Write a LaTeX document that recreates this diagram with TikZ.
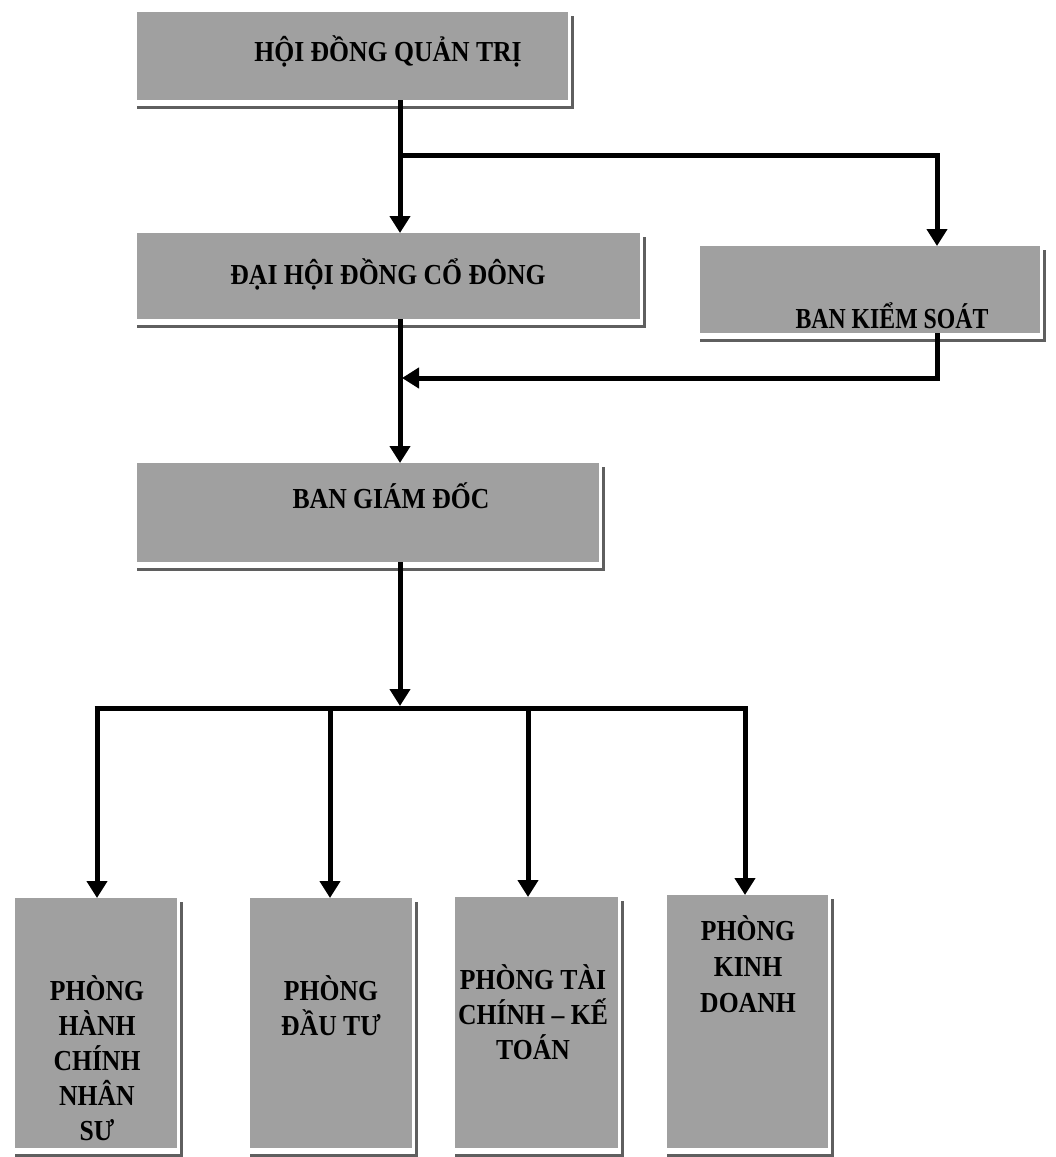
\documentclass[tikz,border=0pt]{standalone}
\usepackage{fontspec}
\setmainfont{Liberation Serif}
\newfontfamily\boxfont[FakeStretch=0.885]{Liberation Serif}
\newfontfamily\narrowfont[FakeStretch=0.82]{Liberation Serif}
\usetikzlibrary{arrows.meta}
\definecolor{boxgray}{RGB}{160,160,160}
\definecolor{shadowgray}{RGB}{95,95,95}
\newcommand{\boxshade}[1]{\draw[shadowline] ([yshift=-7pt]#1.south west) -- ([xshift=4pt,yshift=-7pt]#1.south east) -- ([xshift=4pt,yshift=-4pt]#1.north east);}
\begin{document}
\begin{tikzpicture}[x=1pt,y=-1pt,
  box/.style={fill=boxgray,draw=none,inner sep=0pt,anchor=north west},
  shadowline/.style={draw=shadowgray,line width=3pt},
  connline/.style={line width=5pt,draw=black},
  connarrow/.style={connline,-{Triangle[width=20pt,length=17pt]}},
  toptext/.style={font=\boxfont\bfseries\fontsize{29}{35}\selectfont,inner sep=0pt,anchor=base},
  bottext/.style={font=\boxfont\bfseries\fontsize{29}{35}\selectfont,align=center,inner sep=0pt}
]
\useasboundingbox[fill=white] (0,0) rectangle (1056,1157);

% upper boxes
\node[box,minimum width=431pt,minimum height=88pt] (hdqt) at (137,12) {};
\node[box,minimum width=503pt,minimum height=86pt] (dhdcd) at (137,233) {};
\node[box,minimum width=340pt,minimum height=87pt] (bks) at (700,246) {};
\node[box,minimum width=462pt,minimum height=99pt] (bgd) at (137,463) {};
\boxshade{hdqt}
\boxshade{dhdcd}
\boxshade{bks}
\boxshade{bgd}

\node[toptext] (t1) at (388,61) {HỘI ĐỒNG QUẢN TRỊ};
\node[toptext] (t2) at (388,284) {ĐẠI HỘI ĐỒNG CỔ ĐÔNG};
\node[toptext,font=\narrowfont\bfseries\fontsize{29}{35}\selectfont] (t3) at (892,328) {BAN KIỂM SOÁT};
\node[toptext] (t4) at (391,508) {BAN GIÁM ĐỐC};

% lower boxes
\node[box,minimum width=162pt,minimum height=250pt] (pa) at (15,898) {};
\node[box,minimum width=162pt,minimum height=250pt] (pb) at (250,898) {};
\node[box,minimum width=163pt,minimum height=251pt] (pc) at (455,897) {};
\node[box,minimum width=161pt,minimum height=253pt] (pd) at (667,895) {};
\boxshade{pa}
\boxshade{pb}
\boxshade{pc}
\boxshade{pd}

\node[bottext] (ta) at (97,1058) {PHÒNG\\HÀNH\\CHÍNH\\NHÂN\\SƯ};
\node[bottext] (tb) at (331,1006) {PHÒNG\\ĐẦU TƯ};
\node[bottext] (tc) at (533,1012) {PHÒNG TÀI\\CHÍNH – KẾ\\TOÁN};
\node[bottext,font=\boxfont\bfseries\fontsize{29}{36}\selectfont] (td) at (748,964) {PHÒNG\\KINH\\DOANH};

% connectors
\coordinate (j1) at (400,155);
\coordinate (j2) at (937,155);
\draw[connline] (hdqt.south -| j1) -- (j1);
\draw[connarrow] (j1) -- (dhdcd.north -| j1);
\draw[connarrow] (j1) -- (j2) -- (bks.north -| j2);

\coordinate (j3) at (937,378);
\coordinate (j3e) at (402,378);
\draw[connarrow] (bks.south -| j3) -- (j3) -- (j3e);
\draw[connarrow] (dhdcd.south -| j1) -- (bgd.north -| j1);

\coordinate (j4) at (400,706);
\draw[connarrow] (bgd.south -| j4) -- (j4);

\coordinate (h1) at (97,708);
\coordinate (h2) at (330,708);
\coordinate (h3) at (528,708);
\coordinate (h4) at (745,708);
\draw[connline] ([xshift=-2.5pt]h1) -- ([xshift=2.5pt]h4);
\draw[connarrow] (h1) -- (pa.north -| h1);
\draw[connarrow] (h2) -- (pb.north -| h2);
\draw[connarrow] (h3) -- (pc.north -| h3);
\draw[connarrow] (h4) -- (pd.north -| h4);
\end{tikzpicture}
\end{document}
